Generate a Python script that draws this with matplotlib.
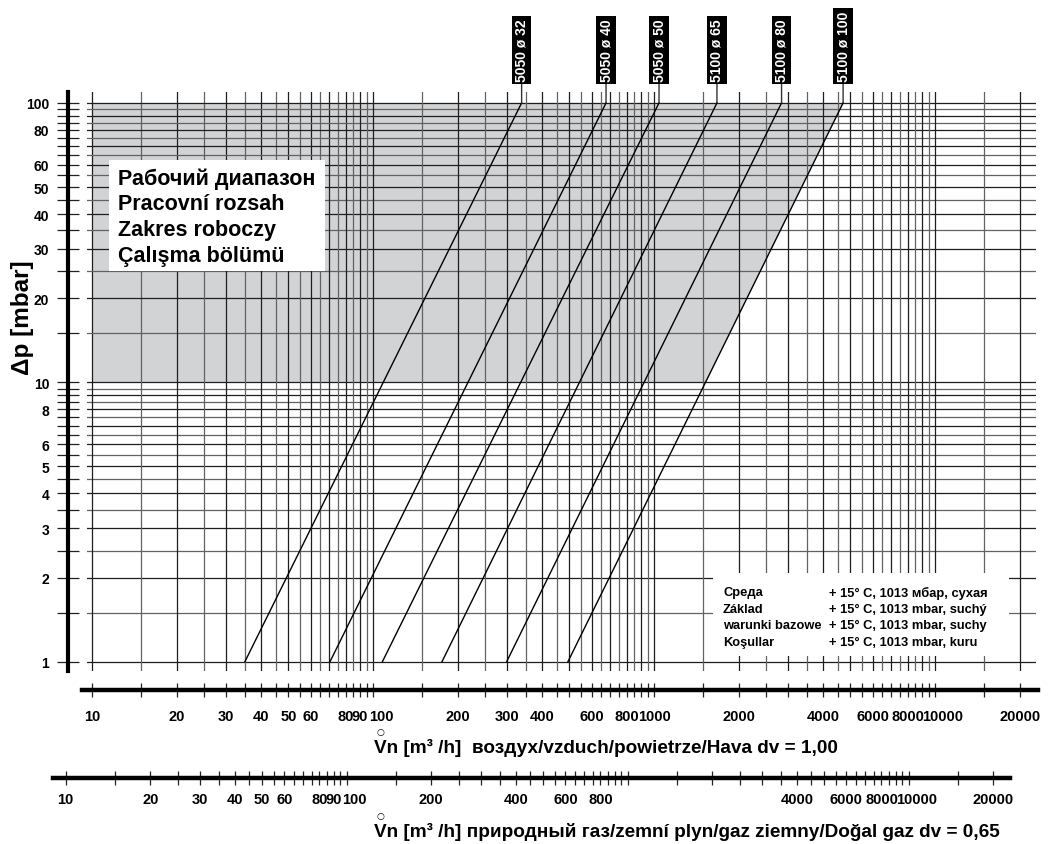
import numpy as np
import matplotlib
matplotlib.use("Agg")
import matplotlib.pyplot as plt
from matplotlib.patches import Polygon, Rectangle
from matplotlib.ticker import NullLocator
from matplotlib.transforms import ScaledTranslation

plt.rcParams['font.family'] = ['Liberation Sans', 'DejaVu Sans']
plt.rcParams['font.weight'] = 'bold'

# valve sizes, air flow [m3/h] read at dp = 1 mbar and dp = 100 mbar
valves = ["5050 ø 32", "5050 ø 40", "5050 ø 50", "5100 ø 65", "5100 ø 80", "5100 ø 100"]
v_at_1 = [35.0, 70.3, 108, 176, 299, 494]
v_at_100 = [338, 675, 1042, 1675, 2844, 4710]
dp_ends = [1, 100]

# working range (grey area)
work_dp = [10, 100]
work_text = ["Рабочий диапазон", "Pracovní rozsah", "Zakres roboczy", "Çalışma bölümü"]

# grid / ticks
steps = [1, 1.5, 2, 2.5, 3, 3.5, 4, 4.5, 5, 5.5, 6, 6.5, 7, 7.5, 8, 8.5, 9, 9.5]
x_grid = [s * d for d in (10, 100, 1000) for s in steps] + [10000, 15000, 20000]
y_grid = [s * d for d in (1, 10) for s in steps] + [100]

y_labels = [1, 2, 3, 4, 5, 6, 8, 10, 20, 30, 40, 50, 60, 80, 100]
air_labels = [10, 20, 30, 40, 50, 60, 80, 90, 100, 200, 300, 400, 600, 800, 1000,
              2000, 4000, 6000, 8000, 10000, 20000]
gas_labels = [10, 20, 30, 40, 50, 60, 80, 90, 100, 200, 400, 600, 800,
              4000, 6000, 8000, 10000, 20000]
nudged = [100, 10000]   # labels pushed right so they do not run into their neighbour

dv_air, dv_gas = 1.00, 0.65

cond_names = ["Среда", "Základ", "warunki bazowe", "Koşullar"]
cond_values = ["+ 15° C, 1013 мбар, сухая", "+ 15° C, 1013 mbar, suchý",
               "+ 15° C, 1013 mbar, suchy", "+ 15° C, 1013 mbar, kuru"]

# layout (pixels of the 1050x845 picture)
W, H = 1050, 845
X10_PX, XDEC_PX = 92, 281      # where 10 m3/h sits, width of a decade
Y1_PX, YDEC_PX = 662.7, 279.4  # where 1 mbar sits, height of a decade


def xval(px):
    return 10 ** (1 + (px - X10_PX) / XDEC_PX)


def yval(py):
    return 10 ** ((Y1_PX - py) / YDEC_PX)


def fpos(x, y):
    return x / W, 1 - y / H


def axes_at(x0, x1, y0, y1):
    return fig.add_axes([x0 / W, 1 - y1 / H, (x1 - x0) / W, (y1 - y0) / H])


def lab(v, keep):
    return f"{v:g}" if v in keep else ""


fig = plt.figure(figsize=(W / 100, H / 100), dpi=100)

# ---- main diagram
ax = axes_at(87, 1036, 93, 672)
ax.set_xscale('log')
ax.set_yscale('log')

# grey working area, right edge follows the biggest valve
k = np.log(v_at_100[-1] / v_at_1[-1]) / np.log(dp_ends[1] / dp_ends[0])
v_lo = v_at_1[-1] * (work_dp[0] / dp_ends[0]) ** k
ax.add_patch(Polygon([(10, work_dp[0]), (10, work_dp[1]), (v_at_100[-1], work_dp[1]),
                      (v_lo, work_dp[0])], closed=True, fc='#d2d3d5', ec='none', zorder=0))

for s, d in [(s, d) for d in (1, 10, 100, 1000, 10000) for s in steps]:
    v = s * d
    col = '#1e1e1e' if s == int(s) else '#626262'
    if v in x_grid:
        ax.axvline(v, color=col, lw=0.9, zorder=1)
    if v in y_grid:
        ax.axhline(v, color=col, lw=0.9, zorder=1)

for name, v1, v100 in zip(valves, v_at_1, v_at_100):
    ax.plot([v1, v100], dp_ends, color='black', lw=1.0, zorder=2)
    ax.annotate(name, xy=(v100, dp_ends[1]), xytext=(0, 15.8), textcoords='offset points',
                rotation=90, ha='center', va='bottom', color='white', fontsize=10,
                bbox=dict(boxstyle='square,pad=0.2', fc='black', ec='none'),
                arrowprops=dict(arrowstyle='-', color='#333333', lw=1.0, shrinkA=0, shrinkB=0),
                annotation_clip=False)

ax.set_xlim(xval(87), xval(1036))
ax.set_ylim(yval(672), yval(93))
ax.xaxis.set_minor_locator(NullLocator())
ax.yaxis.set_minor_locator(NullLocator())
ax.set_xticks(x_grid, labels=[""] * len(x_grid))
ax.tick_params(axis='x', bottom=False, labelbottom=False)
ax.set_yticks(y_grid, labels=[lab(v, y_labels) for v in y_grid])
ax.tick_params(axis='y', direction='inout', length=15.8, width=0.9, pad=5.5,
               labelsize=10, color='#222222')
for sp in ('top', 'right', 'bottom'):
    ax.spines[sp].set_visible(False)
ax.spines['left'].set_position(('outward', 13.7))
ax.spines['left'].set_linewidth(3)
ax.patch.set_visible(False)

fig.text(*fpos(22, 318), "Δp [mbar]", rotation=90, ha='center', va='center', fontsize=17.5)

# ---- boxes with text
fig.add_artist(Rectangle(fpos(109, 272), 216 / W, 111 / H, transform=fig.transFigure,
                         fc='white', ec='none', zorder=2))
for i, t in enumerate(work_text):
    fig.text(*fpos(118, 179 + 25.9 * i), t, ha='left', va='center', fontsize=15.5)

fig.add_artist(Rectangle(fpos(713, 657), 296 / W, 83 / H, transform=fig.transFigure,
                         fc='white', ec='none', zorder=2))
for i, (a, b) in enumerate(zip(cond_names, cond_values)):
    fig.text(*fpos(723, 593 + 16.7 * i), a, ha='left', va='center', fontsize=9.3)
    fig.text(*fpos(829, 593 + 16.7 * i), b, ha='left', va='center', fontsize=9.3)

# ---- flow scales: air and natural gas
gas_factor = np.sqrt(dv_air / dv_gas)
scales = [
    (81.6, 1037.6, 690.5, 1.0, air_labels, 9.5, 748,
     f"Vn [m³ /h]  воздух/vzduch/powietrze/Hava dv = {dv_air:.2f}".replace('.', ',')),
    (53, 1009.6, 778.5, gas_factor, gas_labels, 5.5, 832,
     f"Vn [m³ /h] природный газ/zemní plyn/gaz ziemny/Doğal gaz dv = {dv_gas:.2f}".replace('.', ',')),
]
shift = ScaledTranslation(8 / 100, 0, fig.dpi_scale_trans)
for x0, x1, ys, fac, keep, pad, ty, title in scales:
    a2 = axes_at(x0, x1, ys - 1, ys)
    a2.set_xscale('log')
    a2.set_xlim(xval(x0) * fac, xval(x1) * fac)
    a2.xaxis.set_minor_locator(NullLocator())
    a2.set_xticks(x_grid, labels=[lab(v, keep) for v in x_grid])
    a2.set_yticks([])
    a2.tick_params(axis='x', direction='inout', length=9.4, width=0.9, pad=pad,
                   labelsize=10.5, color='#222222')
    for v, tick in zip(x_grid, a2.xaxis.get_major_ticks()):
        if v in nudged:
            tick.label1.set_transform(tick.label1.get_transform() + shift)
    for sp in ('top', 'right', 'left'):
        a2.spines[sp].set_visible(False)
    a2.spines['bottom'].set_linewidth(3.2)
    a2.patch.set_visible(False)
    fig.text(*fpos(374, ty), title, ha='left', va='center', fontsize=13.7)
    fig.text(*fpos(380.5, ty - 15), "○", ha='center', va='center', fontsize=6.5,
             fontweight='normal', family='DejaVu Sans')

fig.savefig("out.png", dpi=100)
